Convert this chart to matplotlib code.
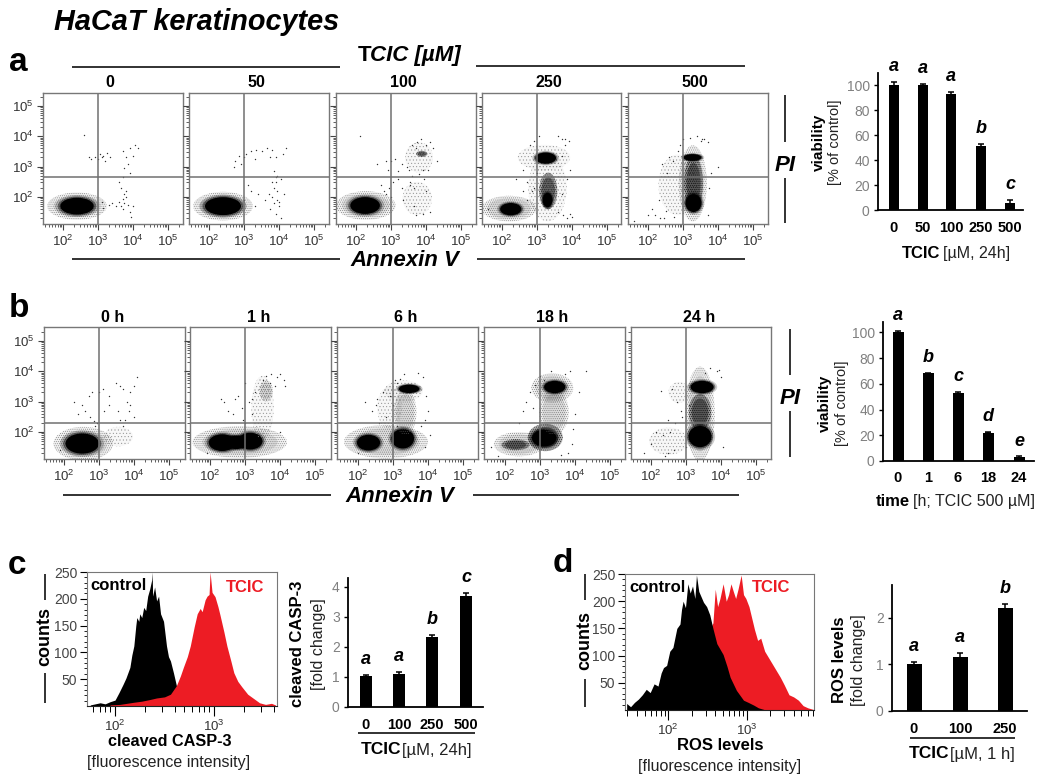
import matplotlib
matplotlib.use('Agg')
import matplotlib.pyplot as plt
import numpy as np
from matplotlib.patches import Ellipse

plt.rcParams['font.family'] = ['Liberation Sans', 'DejaVu Sans']
plt.rcParams['mathtext.fontset'] = 'custom'
plt.rcParams['mathtext.rm'] = 'Liberation Sans'
plt.rcParams['mathtext.default'] = 'regular'
plt.rcParams['hatch.linewidth'] = 0.3

W, H = 1050, 784

# --- flow cytometry: clusters as (log Annexin, log PI, half width, half height, density)
a_titles = ['0', '50', '100', '250', '500']
a_clusters = [
    [(2.40, 1.70, 0.85, 0.45, 'dense'), (2.40, 1.70, 0.52, 0.30, 'core')],
    [(2.40, 1.70, 0.85, 0.47, 'dense'), (2.40, 1.70, 0.56, 0.32, 'core')],
    [(2.28, 1.72, 0.85, 0.47, 'dense'), (2.26, 1.72, 0.46, 0.30, 'core'),
     (3.75, 1.95, 0.42, 0.55, 'sparse'), (3.80, 3.30, 0.40, 0.50, 'sparse'), (3.88, 3.42, 0.16, 0.10, 'heavy')],
    [(2.20, 1.62, 0.78, 0.42, 'dense'), (2.25, 1.60, 0.33, 0.22, 'core'),
     (3.30, 2.30, 0.55, 1.10, 'sparse'), (3.32, 2.20, 0.26, 0.60, 'heavy'), (3.30, 1.90, 0.15, 0.26, 'core'),
     (3.20, 3.30, 0.75, 0.42, 'sparse'), (3.25, 3.28, 0.32, 0.20, 'core')],
    [(2.85, 2.40, 0.55, 1.00, 'sparse'), (3.28, 2.45, 0.40, 1.25, 'dense'),
     (3.30, 2.45, 0.27, 0.90, 'heavy'), (3.30, 1.80, 0.25, 0.32, 'core'), (3.27, 3.30, 0.28, 0.12, 'core')],
]
a_dots_x = [
    [2.9, 3.0, 3.1, 3.15, 3.25, 3.35, 2.75, 2.8, 3.05, 3.2, 3.7, 3.8, 3.9, 4.05, 4.15, 4.0, 3.85, 3.75, 3.9, 3.7,
     3.6, 3.65, 3.8, 3.75, 3.7, 3.6, 3.85, 3.7, 3.9, 3.5, 3.3, 3.15, 3.1, 4.0, 3.95, 3.4, 2.6, 3.8, 3.65, 3.75],
    [2.75, 2.85, 3.0, 3.05, 3.2, 3.35, 3.5, 3.65, 3.8, 3.9, 4.1, 4.2, 2.7, 2.9, 3.3, 3.75, 3.85, 3.95, 4.05, 3.9,
     3.85, 3.95, 3.7, 3.8, 3.95, 3.85, 4.0, 3.75, 3.9, 4.05, 3.6, 3.4, 3.2, 3.1, 3.0, 3.3, 4.15, 3.8, 3.9, 4.0],
    [2.1, 2.6, 2.85, 2.9, 3.0, 3.1, 3.05, 3.2, 2.95, 2.8, 2.7, 2.85, 3.0, 3.3, 3.5, 3.6, 3.7, 4.1, 4.2, 4.3,
     3.55, 3.65, 3.9, 4.0, 3.8, 3.6, 3.75, 3.7, 3.9, 4.1, 3.2, 3.3, 3.45, 3.55, 3.95, 4.05, 3.35, 3.65, 3.85, 4.0],
    [2.7, 2.9, 3.0, 3.6, 3.75, 3.85, 3.95, 4.0, 3.7, 3.8, 3.9, 1.6, 2.6, 2.8, 3.7, 3.85, 3.95, 3.7, 2.4, 2.6,
     2.9, 3.05, 3.6, 3.8, 2.85, 2.7],
    [2.1, 2.2, 2.3, 2.45, 2.55, 2.7, 2.75, 2.9, 3.0, 3.2, 3.4, 3.5, 3.6, 3.7, 4.0, 3.8, 3.75, 1.6, 2.0, 3.55,
     3.7, 2.6, 2.4, 2.35, 2.85, 2.5],
]
a_dots_y = [
    [3.3, 3.25, 3.3, 3.35, 3.45, 3.3, 3.3, 3.25, 3.4, 3.2, 3.5, 3.3, 3.6, 3.7, 3.6, 3.35, 3.1, 2.95, 2.8, 2.65,
     2.5, 2.3, 2.2, 2.1, 1.95, 1.85, 1.75, 1.6, 1.5, 1.7, 1.75, 1.65, 1.85, 1.7, 1.35, 1.8, 4.05, 2.0, 1.7, 1.8],
    [3.2, 3.35, 3.3, 3.4, 3.5, 3.55, 3.5, 3.6, 3.55, 3.3, 3.4, 3.6, 3.0, 3.1, 3.25, 3.3, 2.85, 2.7, 2.6, 2.5,
     2.3, 2.2, 2.1, 2.0, 1.9, 1.8, 1.7, 1.6, 1.45, 1.3, 1.9, 2.1, 2.2, 2.4, 1.9, 1.7, 2.1, 2.5, 2.65, 1.85],
    [4.0, 3.1, 3.2, 2.9, 3.2, 3.25, 2.5, 2.6, 2.3, 2.2, 2.4, 2.1, 2.0, 2.3, 2.9, 2.7, 3.6, 3.8, 3.6, 3.2,
     2.5, 2.3, 2.9, 2.2, 2.75, 3.7, 3.8, 1.4, 1.45, 1.5, 2.85, 3.1, 3.0, 2.4, 2.6, 2.9, 1.9, 1.7, 3.9, 3.7],
    [1.9, 2.3, 2.8, 1.5, 1.4, 1.3, 1.45, 1.35, 3.9, 3.7, 3.85, 1.6, 2.9, 3.7, 2.1, 2.6, 2.9, 3.35, 2.6, 2.2,
     3.85, 4.0, 4.0, 3.9, 2.2, 2.5],
    [1.6, 1.4, 1.9, 1.3, 2.8, 3.2, 1.35, 3.7, 3.9, 3.95, 4.0, 3.85, 3.9, 3.8, 3.0, 2.8, 2.3, 1.2, 1.4, 3.9,
     1.4, 3.3, 3.1, 1.3, 3.5, 1.55],
]

b_titles = ['0 h', '1 h', '6 h', '18 h', '24 h']
b_clusters = [
    [(2.55, 1.62, 0.85, 0.55, 'dense'), (2.52, 1.62, 0.52, 0.36, 'core'), (3.55, 1.85, 0.42, 0.32, 'sparse')],
    [(2.85, 1.67, 1.35, 0.52, 'dense'), (2.35, 1.65, 0.42, 0.30, 'core'), (3.15, 1.70, 0.38, 0.30, 'core'),
     (2.75, 1.66, 0.35, 0.24, 'core'), (3.50, 2.80, 0.32, 1.05, 'sparse'), (3.60, 3.35, 0.20, 0.35, 'dense')],
    [(2.80, 1.68, 1.20, 0.55, 'dense'), (2.30, 1.65, 0.36, 0.28, 'core'), (3.28, 1.78, 0.35, 0.35, 'core'),
     (3.35, 2.65, 0.32, 0.75, 'dense'), (3.30, 3.35, 0.55, 0.35, 'sparse'), (3.46, 3.42, 0.32, 0.15, 'core'),
     (2.90, 2.80, 0.35, 0.70, 'sparse')],
    [(2.40, 1.60, 0.72, 0.40, 'dense'), (3.15, 1.82, 0.50, 0.45, 'heavy'), (3.12, 1.80, 0.38, 0.30, 'core'),
     (2.30, 1.58, 0.40, 0.18, 'heavy'), (3.40, 2.65, 0.42, 0.75, 'dense'), (3.35, 3.45, 0.60, 0.48, 'dense'),
     (3.42, 3.48, 0.33, 0.22, 'core')],
    [(3.40, 2.60, 0.42, 1.55, 'dense'), (3.46, 3.48, 0.36, 0.22, 'core'), (3.40, 2.65, 0.32, 0.60, 'heavy'),
     (3.40, 1.85, 0.36, 0.38, 'core'), (2.50, 1.70, 0.55, 0.45, 'sparse'), (2.80, 3.30, 0.30, 0.35, 'sparse')],
]
b_dots_x = [
    [1.9, 2.3, 2.4, 2.5, 2.7, 2.75, 2.8, 2.9, 3.0, 3.1, 3.15, 3.3, 3.5, 3.6, 3.7, 3.9, 4.0, 4.1, 3.8, 3.85,
     3.75, 3.7, 3.55, 3.3, 2.6, 2.95, 3.9, 4.0, 3.6, 2.85],
    [1.9, 2.3, 2.5, 2.65, 2.8, 2.9, 3.0, 3.0, 3.1, 3.2, 2.95, 2.7, 2.4, 3.7, 3.9, 4.0, 3.85, 3.5, 3.3, 3.2,
     4.1, 4.15, 3.75, 3.6, 4.0],
    [2.0, 2.2, 2.4, 2.55, 2.7, 2.8, 2.9, 3.0, 3.05, 3.1, 2.6, 2.5, 3.8, 3.9, 4.0, 3.95, 3.85, 3.7, 3.9, 4.05,
     3.3, 3.2, 3.1],
    [1.6, 1.8, 2.4, 2.5, 2.6, 2.7, 2.8, 2.85, 3.0, 3.7, 3.85, 3.95, 4.0, 3.9, 3.8, 3.3, 3.1, 4.1, 4.3, 3.6],
    [1.8, 2.0, 2.15, 2.4, 2.5, 2.55, 2.65, 2.7, 2.85, 3.0, 3.1, 3.9, 3.95, 4.0, 4.05, 3.7, 3.55, 2.75, 2.6, 2.9,
     2.5, 2.35, 2.3],
]
b_dots_y = [
    [1.4, 3.0, 2.6, 2.9, 3.2, 2.5, 3.3, 2.2, 3.3, 3.4, 2.7, 3.2, 3.6, 3.5, 3.4, 3.3, 3.5, 3.8, 3.0, 2.7,
     2.4, 2.2, 2.7, 2.9, 2.7, 2.3, 2.9, 2.5, 2.4, 2.35],
    [1.3, 3.1, 2.7, 2.6, 3.2, 2.8, 3.6, 2.3, 3.0, 2.6, 2.4, 3.1, 3.0, 3.6, 3.8, 3.9, 3.5, 3.7, 3.3, 3.1,
     3.7, 3.5, 3.9, 3.85, 2.0],
    [1.3, 3.0, 2.7, 3.1, 3.3, 2.5, 3.2, 2.9, 3.7, 3.6, 2.3, 2.9, 2.2, 2.4, 2.7, 3.2, 3.8, 3.95, 1.5, 1.9,
     3.9, 3.75, 2.2],
    [1.5, 1.2, 2.3, 2.7, 3.0, 3.3, 2.8, 3.55, 3.85, 3.9, 4.0, 2.1, 2.6, 1.6, 1.3, 4.0, 3.7, 3.3, 4.0, 1.25],
    [1.3, 1.6, 2.0, 1.2, 1.3, 2.0, 1.4, 2.3, 2.7, 1.5, 2.9, 4.0, 4.05, 3.8, 1.5, 4.1, 3.95, 3.0, 3.4, 2.5,
     2.4, 1.9, 3.35],
]

# --- bar panels
a_bar_labels = ['0', '50', '100', '250', '500']
a_bar_vals = [100, 100, 93.5, 51, 5.5]
a_bar_errs = [3, 1, 1, 2, 2.5]
a_bar_sig = ['a', 'a', 'a', 'b', 'c']

b_bar_labels = ['0', '1', '6', '18', '24']
b_bar_vals = [100, 68, 53, 22, 3]
b_bar_errs = [0.8, 0.5, 0.8, 0.5, 0.5]
b_bar_sig = ['a', 'b', 'c', 'd', 'e']

c_bar_labels = ['0', '100', '250', '500']
c_bar_vals = [1.03, 1.1, 2.33, 3.7]
c_bar_errs = [0.03, 0.08, 0.08, 0.1]
c_bar_sig = ['a', 'a', 'b', 'c']

d_bar_labels = ['0', '100', '250']
d_bar_vals = [1.0, 1.16, 2.2]
d_bar_errs = [0.05, 0.09, 0.09]
d_bar_sig = ['a', 'a', 'b']

# --- histograms, log10 intensity vs counts
c_ctrl_x = [1.75, 1.80, 1.85, 1.90, 1.95, 2.00, 2.04, 2.08, 2.11, 2.15, 2.17, 2.19, 2.21, 2.22, 2.24, 2.25, 2.27,
            2.29, 2.31, 2.33, 2.35, 2.37, 2.375, 2.38, 2.40, 2.42, 2.44, 2.46, 2.49, 2.52, 2.54, 2.56, 2.59, 2.62, 2.65]
c_ctrl_y = [2, 4, 6, 4, 8, 11, 25, 40, 52, 72, 95, 112, 150, 165, 158, 172, 165, 184, 178, 205, 218, 235, 250, 205, 222,
            196, 205, 172, 158, 112, 92, 84, 62, 38, 5]
c_tcic_x = [1.95, 2.05, 2.19, 2.27, 2.35, 2.42, 2.50, 2.56, 2.62, 2.66, 2.69, 2.73, 2.76, 2.80, 2.83, 2.86, 2.88,
            2.91, 2.93, 2.95, 2.96, 2.98, 3.01, 3.04, 3.06, 3.10, 3.13, 3.17, 3.20, 3.24, 3.28, 3.34, 3.40, 3.46, 3.52, 3.58, 3.62]
c_tcic_y = [2, 3, 7, 9, 12, 15, 17, 22, 38, 56, 72, 92, 112, 148, 172, 182, 176, 198, 205, 208, 250, 212, 204, 185,
            170, 138, 112, 84, 62, 46, 36, 22, 14, 6, 3, 5, 2]

d_ctrl_x = [1.47, 1.52, 1.57, 1.62, 1.67, 1.72, 1.77, 1.82, 1.87, 1.91, 1.94, 1.98, 2.02, 2.06, 2.11, 2.15, 2.17, 2.19,
            2.22, 2.25, 2.28, 2.31, 2.34, 2.36, 2.39, 2.42, 2.45, 2.49, 2.53, 2.57, 2.62, 2.66, 2.70, 2.75, 2.79, 2.83,
            2.87, 2.92, 2.96, 3.02, 3.09, 3.15, 3.22]
d_ctrl_y = [12, 6, 14, 20, 28, 38, 32, 48, 44, 68, 78, 82, 108, 115, 150, 158, 185, 200, 188, 232, 215, 228, 205,
            248, 218, 208, 198, 190, 175, 150, 122, 112, 102, 80, 60, 48, 36, 26, 18, 14, 9, 4, 1]
d_tcic_x = [2.40, 2.50, 2.57, 2.60, 2.63, 2.66, 2.70, 2.74, 2.77, 2.80, 2.83, 2.86, 2.89, 2.93, 2.96, 2.99, 3.03, 3.06,
            3.10, 3.14, 3.18, 3.23, 3.28, 3.33, 3.38, 3.43, 3.48, 3.54, 3.60, 3.66, 3.72, 3.78, 3.85]
d_tcic_y = [90, 140, 160, 222, 190, 205, 232, 200, 212, 232, 218, 205, 222, 248, 212, 205, 190, 172, 148, 128, 132,
            108, 96, 84, 72, 60, 46, 28, 24, 18, 8, 4, 1]

fig = plt.figure(figsize=(W / 100, H / 100), dpi=100)


def px_axes(x0, y0, x1, y1):
    # x0,y0 = top left in picture pixels
    return fig.add_axes([x0 / W, 1 - y1 / H, (x1 - x0) / W, (y1 - y0) / H])


ov = fig.add_axes([0, 0, 1, 1], zorder=10)
ov.set_xlim(0, W)
ov.set_ylim(H, 0)
ov.axis('off')


def label(x, y, s, size=10, weight='bold', style='normal', color='black', ha='center', rot=0):
    ov.text(x, y, s, fontsize=size, fontweight=weight, fontstyle=style, color=color, ha=ha, va='center', rotation=rot)


def rule(x0, y0, x1, y1, lw=1.3):
    ov.plot([x0, x1], [y0, y1], color='#222222', lw=lw, solid_capstyle='butt')


def log_minor(lo, hi):
    out = []
    for d in range(1, 6):
        for k in range(2, 10):
            v = d + np.log10(k)
            if lo < v < hi:
                out.append(v)
    return out


def blob(ax, x, y, hw, hh, dens):
    def ell(scale, **kw):
        ax.add_patch(Ellipse((x, y), 2 * hw * scale, 2 * hh * scale, **kw))
    if dens == 'core':
        ell(1.2, fc='black', ec='none', alpha=0.2)
        ell(1.05, fc='black', ec='none', alpha=0.45)
        ell(0.92, fc='black', ec='none')
    elif dens == 'heavy':
        ell(1.0, fc='#00000055', ec='none')
        ell(0.75, fc='#00000066', ec='none')
        ell(1.0, fc='none', ec='#111111', lw=0, hatch='........')
    elif dens == 'dense':
        ell(1.0, fc='#0000000f', ec='none')
        ell(0.8, fc='#00000018', ec='none')
        ell(1.0, fc='none', ec='#666666', lw=0, hatch='........')
    else:
        ell(1.0, fc='#00000008', ec='none')
        ell(1.0, fc='none', ec='#888888', lw=0, hatch='.....')


def flow_panel(box, xt, yt, hline, clusters, dx, dy, first):
    ax = px_axes(*box)
    xlim = (2 - (xt - box[0]) / 35.0, 2 + (box[2] - xt) / 35.0)
    ylim = (2 - (box[3] - yt) / 30.4, 2 + (yt - box[1]) / 30.4)
    for x, y, hw, hh, dens in clusters:
        blob(ax, x, y, hw, hh, dens)
    ax.scatter(dx, dy, s=1.0, color='#333333', linewidths=0)
    ax.axvline(3, color='#707070', lw=1.1)
    ax.axhline(hline, color='#707070', lw=1.1)
    ax.set_xlim(xlim)
    ax.set_ylim(ylim)
    ax.set_xticks([2, 3, 4, 5])
    ax.set_xticklabels(['10$^{2}$', '10$^{3}$', '10$^{4}$', '10$^{5}$'], fontsize=9.5, color='#333333')
    ax.set_yticks([2, 3, 4, 5])
    ax.set_yticklabels(['10$^{2}$', '10$^{3}$', '10$^{4}$', '10$^{5}$'] if first else [], fontsize=9.5, color='#333333')
    ax.set_xticks(log_minor(*xlim), minor=True)
    ax.set_yticks(log_minor(*ylim), minor=True)
    ax.tick_params(which='major', length=4, width=0.8, color='#444444', pad=3)
    ax.tick_params(which='minor', length=2, width=0.6, color='#444444')
    for s in ax.spines.values():
        s.set_color('#777777')
        s.set_linewidth(1.0)
    return ax


def bar_panel(box, xs, width, vals, errs, labels, sig, ymax, yticks, label_y, sig_off):
    ax = px_axes(*box)
    ax.bar(xs, vals, width=width, color='black', yerr=errs,
           error_kw=dict(ecolor='black', elinewidth=1.1, capsize=2.5, capthick=1.1))
    ax.set_xlim(box[0], box[2])
    ax.set_ylim(0, ymax)
    ax.set_yticks(yticks)
    ax.tick_params(axis='y', length=3, width=1, labelsize=10, labelcolor='#808080', pad=3)
    ax.set_xticks([])
    for s in ['top', 'right']:
        ax.spines[s].set_visible(False)
    for s in ['left', 'bottom']:
        ax.spines[s].set_linewidth(1.3)
    for x, v, e, t, lab in zip(xs, vals, errs, sig, labels):
        ax.annotate(t, (x, v + e), xytext=(0, sig_off), textcoords='offset points', ha='center', va='bottom',
                    fontsize=13, fontweight='bold', fontstyle='italic', annotation_clip=False)
        label(x, label_y, lab, size=10.5)
    return ax


# panel a
a_boxes = [(43, 93, 183, 224), (189, 93, 329, 224), (336, 93, 476, 224), (482, 93, 621, 224), (628, 93, 768, 224)]
a_xt = [63, 209, 356, 502, 648]
for i in range(5):
    flow_panel(a_boxes[i], a_xt[i], 197, 2.66, a_clusters[i], a_dots_x[i], a_dots_y[i], i == 0)
    label((a_boxes[i][0] + a_boxes[i][2]) / 2 - 3, 82, a_titles[i], size=11.5)

# panel b
b_boxes = [(44, 327, 185, 459), (190, 327, 331, 459), (337, 327, 478, 459), (484, 327, 625, 459), (631, 327, 771, 459)]
b_xt = [64, 210, 358, 505, 651]
for i in range(5):
    flow_panel(b_boxes[i], b_xt[i], 432, 2.3, b_clusters[i], b_dots_x[i], b_dots_y[i], i == 0)
    label((b_boxes[i][0] + b_boxes[i][2]) / 2 - 2, 317, b_titles[i], size=11.5)

# bars a, b
bar_panel((878, 73, 1023, 210), [894, 923, 951, 981, 1010], 10, a_bar_vals, a_bar_errs, a_bar_labels, a_bar_sig,
          110, [0, 20, 40, 60, 80, 100], 228, 5)
bar_panel((883, 322, 1034, 461), [898, 928, 958, 988, 1019], 11, b_bar_vals, b_bar_errs, b_bar_labels, b_bar_sig,
          108, [0, 20, 40, 60, 80, 100], 478, 5)
# bars c, d
bar_panel((348, 578, 483, 707), [366, 399, 432, 466], 12, c_bar_vals, c_bar_errs, c_bar_labels, c_bar_sig,
          4.3, [0, 1, 2, 3, 4], 725, 5)
bar_panel((892, 585, 1027, 711), [914, 960, 1005], 15, d_bar_vals, d_bar_errs, d_bar_labels, d_bar_sig,
          2.7, [0, 1, 2], 729, 5)


def hist_panel(box, red_top, ctrl, tcic, xlim):
    ax = px_axes(*box)
    if red_top:
        ax.fill_between(ctrl[0], ctrl[1], color='black', lw=0)
        ax.fill_between(tcic[0], tcic[1], color='#ed1c24', lw=0)
    else:
        ax.fill_between(tcic[0], tcic[1], color='#ed1c24', lw=0)
        ax.fill_between(ctrl[0], ctrl[1], color='black', lw=0)
    ax.set_xlim(xlim)
    ax.set_ylim(0, 250)
    ax.set_yticks([50, 100, 150, 200, 250])
    ax.set_yticks(np.arange(10, 250, 10), minor=True)
    ax.set_xticks([2, 3])
    ax.set_xticklabels(['10$^{2}$', '10$^{3}$'], fontsize=9.5, color='#333333')
    ax.set_xticks(log_minor(*xlim), minor=True)
    ax.tick_params(axis='y', which='major', length=5, width=0.8, labelsize=10, labelcolor='#444444', pad=2)
    ax.tick_params(axis='y', which='minor', length=2.5, width=0.6)
    ax.tick_params(axis='x', which='major', length=7, width=0.8, pad=2)
    ax.tick_params(axis='x', which='minor', length=4, width=0.7)
    for s in ax.spines.values():
        s.set_color('#777777')
    ax.spines['bottom'].set_color('#222222')
    return ax


hist_panel((87, 572, 277, 706), True, (c_ctrl_x, c_ctrl_y), (c_tcic_x, c_tcic_y), (1.717, 3.636))
hist_panel((625, 574, 814, 710), False, (d_ctrl_x, d_ctrl_y), (d_tcic_x, d_tcic_y), (1.449, 3.859))

# text and rules
label(54, 22, 'HaCaT keratinocytes', size=20.8, style='italic', ha='left')
label(9, 62, 'a', size=24, ha='left')
label(9, 308, 'b', size=24, ha='left')
label(8, 566, 'c', size=24, ha='left')
label(553, 563, 'd', size=24, ha='left')

label(358, 55, 'T', size=16, ha='left')
label(370, 55, 'CIC [µM]', size=16, style='italic', ha='left')
rule(72, 67, 340, 67)
rule(476, 66, 745, 66)
rule(72, 259, 340, 259)
rule(477, 259, 745, 259)
label(405, 261, 'Annexin V', size=16, style='italic')
label(400, 496, 'Annexin V', size=16, style='italic')
rule(63, 495, 331, 495)
rule(473, 495, 739, 495)

label(785, 165, 'PI', size=16, style='italic')
rule(785, 95, 785, 142)
rule(785, 178, 785, 223)
label(790, 398, 'PI', size=16, style='italic')
rule(790, 329, 790, 375)
rule(790, 411, 790, 457)

label(819, 142, 'viability', size=11, rot=90)
label(835, 142, '[% of control]', size=10.5, weight='normal', rot=90, color='#222222')
label(902, 253, 'TCIC', size=12, ha='left')
label(943, 253, '[µM, 24h]', size=11.5, weight='normal', ha='left', color='#222222')

label(825, 403, 'viability', size=11, rot=90)
label(842, 403, '[% of control]', size=10.5, weight='normal', rot=90, color='#222222')
label(876, 501, 'time', size=12, ha='left')
label(913, 501, '[h; TCIC 500 µM]', size=11.5, weight='normal', ha='left', color='#222222')

label(45, 636, 'counts', size=13, rot=90)
rule(45, 574, 45, 600)
rule(45, 673, 45, 703)
label(90, 585, 'control', size=12, ha='left')
label(226, 588, 'TCIC', size=12, color='#ed1c24', ha='left')
label(170, 742, 'cleaved CASP-3', size=11.7)
label(169, 762, '[fluorescence intensity]', size=11.5, weight='normal', color='#222222')
label(298, 644, 'cleaved CASP-3', size=12, rot=90)
label(318, 644, '[fold change]', size=11.5, weight='normal', rot=90, color='#222222')
rule(358, 733, 475, 733)
label(361, 750, 'TCIC', size=12.5, ha='left')
label(402, 750, '[µM, 24h]', size=12, weight='normal', ha='left', color='#222222')

label(585, 641, 'counts', size=13, rot=90)
rule(585, 574, 585, 600)
rule(585, 679, 585, 707)
label(629, 587, 'control', size=12, ha='left')
label(752, 588, 'TCIC', size=12, color='#ed1c24', ha='left')
label(720, 746, 'ROS levels', size=12)
label(720, 766, '[fluorescence intensity]', size=11.5, weight='normal', color='#222222')
label(840, 660, 'ROS levels', size=12, rot=90)
label(858, 660, '[fold change]', size=11.5, weight='normal', rot=90, color='#222222')
rule(910, 738, 1015, 738)
label(909, 754, 'TCIC', size=12.5, ha='left')
label(950, 754, '[µM, 1 h]', size=12, weight='normal', ha='left', color='#222222')

fig.savefig('out.png', dpi=100)
